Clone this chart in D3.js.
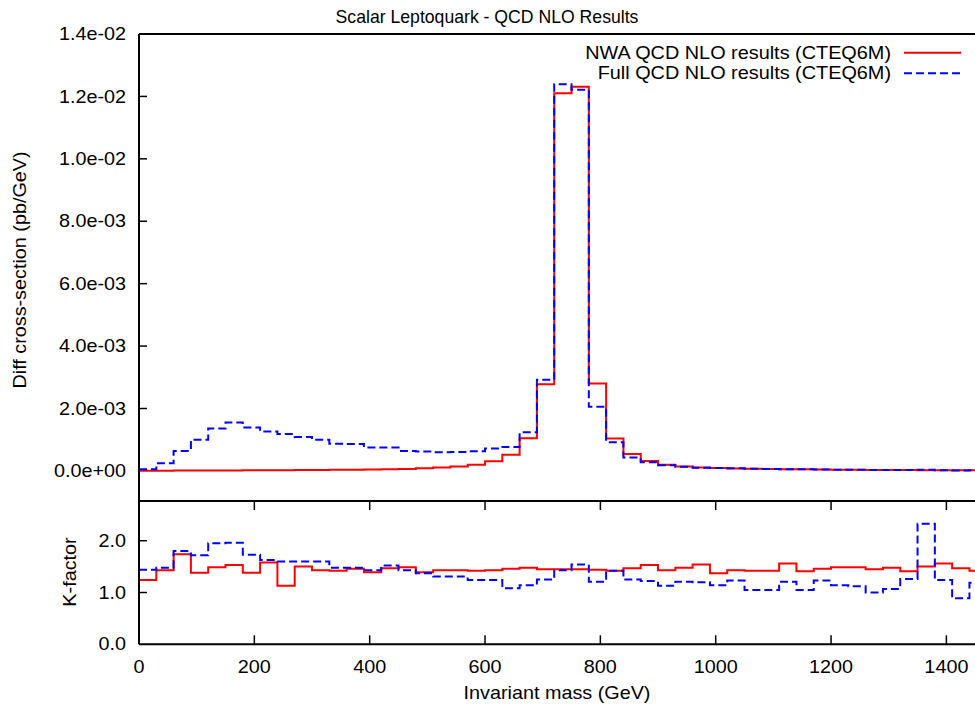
<!DOCTYPE html>
<html>
<head>
<meta charset="utf-8">
<script src="https://cdn.jsdelivr.net/npm/d3@7"></script>
<style>
  html, body { margin: 0; padding: 0; background: #fff; }
  svg { display: block; }
  text { font-family: "Liberation Sans", Arial, Helvetica, sans-serif; fill: #000; }
</style>
</head>
<body>
<svg id="chart" width="975" height="704"></svg>
<script>
// ---- data ----
const binStarts = [0,30,60,90,120,150,180,210,240,270,300,330,360,390,420,450,480,510,540,570,600,630,660,690,720,750,780,810,840,870,900,930,960,990,1020,1050,1080,1110,1140,1170,1200,1230,1260,1290,1320,1350,1380,1410,1440];
const binWidth = 30;

const nwaXsec = [0.000005,0.000008,0.00001,0.000012,0.000015,0.000017,0.00002,0.000022,0.000025,0.000028,
  0.000031,0.000035,0.00004,0.000046,0.000053,0.000062,0.000087,0.00011,0.00014,0.0002,
  0.00031,0.00052,0.00105,0.00278,0.0121,0.01231,0.0028,0.00104,0.00054,0.00032,
  0.0002,0.00014,0.00011,0.00009,0.00008,0.00007,0.000062,0.000055,0.00005,0.000045,
  0.00004,0.000036,0.000033,0.00003,0.000027,0.000025,0.000022,0.00002,0.000018];

const fullXsec = [0.000055,0.00025,0.00064,0.001,0.00136,0.00155,0.00139,0.00126,0.00118,0.00109,
  0.001,0.00087,0.00086,0.00075,0.00075,0.00064,0.00062,0.0006,0.00061,0.00063,
  0.00072,0.00077,0.00124,0.00292,0.01239,0.01221,0.00206,0.00092,0.00043,0.00028,
  0.00018,0.00013,0.0001,0.00009,0.000082,0.000072,0.000062,0.000055,0.000052,0.000045,
  0.00004,0.000036,0.000032,0.000028,0.000026,0.00004,0.000022,0.000016,0.000019];

const nwaK = [1.24,1.43,1.74,1.38,1.49,1.53,1.38,1.58,1.13,1.5,
  1.43,1.42,1.46,1.39,1.47,1.49,1.39,1.43,1.43,1.42,
  1.43,1.46,1.48,1.45,1.45,1.45,1.44,1.42,1.47,1.53,
  1.43,1.48,1.54,1.37,1.43,1.42,1.42,1.56,1.41,1.46,
  1.49,1.49,1.45,1.48,1.41,1.5,1.56,1.47,1.42];

const fullK = [1.44,1.48,1.8,1.72,1.95,1.96,1.73,1.63,1.6,1.6,
  1.6,1.48,1.48,1.43,1.52,1.43,1.37,1.31,1.31,1.24,
  1.24,1.08,1.14,1.25,1.43,1.54,1.21,1.42,1.25,1.22,
  1.13,1.21,1.2,1.14,1.23,1.05,1.05,1.21,1.05,1.23,
  1.14,1.12,1.0,1.07,1.26,2.33,1.24,0.89,1.19];

const xTicks = [0,200,400,600,800,1000,1200,1400];
const xsecTicks = [0,0.002,0.004,0.006,0.008,0.010,0.012,0.014];
const xsecTickLabels = ["0.0e+00","2.0e-03","4.0e-03","6.0e-03","8.0e-03","1.0e-02","1.2e-02","1.4e-02"];
const kTicks = [0,1,2];
const kTickLabels = ["0.0","1.0","2.0"];

const titleText = "Scalar Leptoquark - QCD NLO Results";
const seriesNames = ["NWA QCD NLO results (CTEQ6M)", "Full QCD NLO results (CTEQ6M)"];
const seriesColors = ["#ff0000", "#0000ff"];

// ---- layout ----
const svg = d3.select("#chart");
const left = 139, right = 975;
const topY0 = 34, topY1 = 501;
const botY0 = 501, botY1 = 644.3;

const x = d3.scaleLinear().domain([0, 1450]).range([left, left + 1450 * 0.5767]);
const yTop = d3.scaleLinear().domain([-0.0009636, 0.014]).range([topY1, topY0]);
const yBot = d3.scaleLinear().domain([0, 2.767]).range([botY1, botY0]);

// text helper: glyphs slightly widened horizontally like the reference rendering
function label(px, py, str, opts) {
  const o = Object.assign({ size: 18, sx: 1.1, rot: 0, anchor: "middle" }, opts || {});
  svg.append("text")
    .attr("transform", `translate(${px},${py})` + (o.rot ? ` rotate(${o.rot})` : "") + ` scale(${o.sx},1)`)
    .attr("text-anchor", o.anchor)
    .attr("dominant-baseline", "central")
    .attr("font-size", o.size)
    .text(str);
}

const defs = svg.append("defs");
defs.append("clipPath").attr("id", "clipTop").append("rect")
  .attr("x", left).attr("y", topY0).attr("width", right - left).attr("height", topY1 - topY0);
defs.append("clipPath").attr("id", "clipBot").append("rect")
  .attr("x", left).attr("y", botY0).attr("width", right - left).attr("height", botY1 - botY0);

function stepPoints(vals) {
  const pts = binStarts.map((b, i) => [b, vals[i]]);
  pts.push([binStarts[binStarts.length - 1] + binWidth, vals[vals.length - 1]]);
  return pts;
}

function drawSeries(g, yScale, vals, color, dashed) {
  const line = d3.line().x(d => x(d[0])).y(d => yScale(d[1])).curve(d3.curveStepAfter);
  g.append("path")
    .attr("d", line(stepPoints(vals)))
    .attr("fill", "none")
    .attr("stroke", color)
    .attr("stroke-width", 2)
    .attr("stroke-dasharray", dashed ? "8,4" : null);
}

// top panel series
const gTop = svg.append("g").attr("clip-path", "url(#clipTop)");
drawSeries(gTop, yTop, nwaXsec, seriesColors[0], false);
drawSeries(gTop, yTop, fullXsec, seriesColors[1], true);

// bottom panel series
const gBot = svg.append("g").attr("clip-path", "url(#clipBot)");
drawSeries(gBot, yBot, nwaK, seriesColors[0], false);
drawSeries(gBot, yBot, fullK, seriesColors[1], true);

// axes / borders
const axisG = svg.append("g").attr("stroke", "#000").attr("fill", "none");
axisG.append("line").attr("x1", left).attr("x2", right).attr("y1", topY0).attr("y2", topY0).attr("stroke-width", 2);
axisG.append("line").attr("x1", left).attr("x2", left).attr("y1", topY0).attr("y2", botY1).attr("stroke-width", 2);
axisG.append("line").attr("x1", left).attr("x2", right).attr("y1", topY1).attr("y2", topY1).attr("stroke-width", 2);
axisG.append("line").attr("x1", left).attr("x2", right).attr("y1", botY1).attr("y2", botY1).attr("stroke-width", 2);

// top y ticks
xsecTicks.forEach((t, i) => {
  const yy = yTop(t);
  if (i > 0 && i < xsecTicks.length - 1) {
    axisG.append("line").attr("x1", left).attr("x2", left + 8).attr("y1", yy).attr("y2", yy).attr("stroke-width", 1.5);
  }
  label(126, yy, xsecTickLabels[i], { anchor: "end" });
});

// bottom y ticks
kTicks.forEach((t, i) => {
  const yy = yBot(t);
  if (t > 0) {
    axisG.append("line").attr("x1", left).attr("x2", left + 8).attr("y1", yy).attr("y2", yy).attr("stroke-width", 1.5);
  }
  label(126, yy, kTickLabels[i], { anchor: "end" });
});

// x ticks (bottom panel, both edges)
xTicks.forEach(t => {
  const xx = x(t);
  if (t > 0) {
    axisG.append("line").attr("x1", xx).attr("x2", xx).attr("y1", botY1).attr("y2", botY1 - 9).attr("stroke-width", 1.5);
    axisG.append("line").attr("x1", xx).attr("x2", xx).attr("y1", botY0).attr("y2", botY0 + 9).attr("stroke-width", 1.5);
  }
  label(xx, 667, String(t));
});

// title and axis labels
label(487, 17, titleText, { size: 18, sx: 0.98 });
label(557, 693, "Invariant mass (GeV)");
label(20, 270, "Diff cross-section (pb/GeV)", { rot: -90 });
label(70, 572, "K-factor", { rot: -90 });

// legend
const legY = [52.7, 73.3];
seriesNames.forEach((name, i) => {
  label(891, legY[i], name, { anchor: "end", size: 17.5, sx: 1.135 });
  svg.append("line").attr("x1", 904).attr("x2", 961).attr("y1", legY[i]).attr("y2", legY[i])
    .attr("stroke", seriesColors[i]).attr("stroke-width", 2)
    .attr("stroke-dasharray", i === 1 ? "8,4" : null);
});
</script>
</body>
</html>
